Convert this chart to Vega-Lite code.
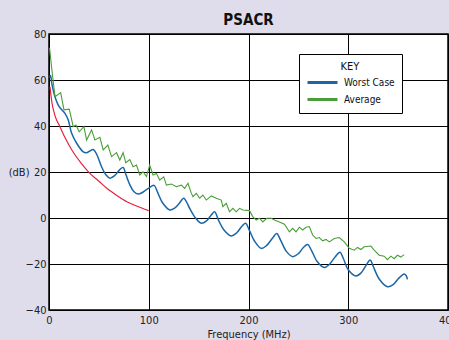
{
  "$schema": "https://vega.github.io/schema/vega-lite/v6.json",
  "width": 399,
  "height": 276,
  "autosize": {"type": "none"},
  "padding": {"left": 49, "top": 34, "right": 1, "bottom": 30},
  "background": "#dfdcec",
  "title": {"text": "PSACR", "fontSize": 15, "font": "Liberation Sans Narrow, DejaVu Sans Condensed, Liberation Sans, sans-serif", "fontWeight": "bold", "color": "#111111", "anchor": "middle", "frame": "group", "offset": 0},
  "config": {
    "view": {"fill": "white", "stroke": "black", "strokeWidth": 1.5},
    "font": "Liberation Sans Narrow, DejaVu Sans Condensed, Liberation Sans, sans-serif",
    "axis": {"labelFont": "Liberation Sans Narrow, DejaVu Sans Condensed, Liberation Sans, sans-serif", "titleFont": "Liberation Sans Narrow, DejaVu Sans Condensed, Liberation Sans, sans-serif", "labelFontSize": 11, "titleFontSize": 11, "titleFontWeight": "normal", "labelColor": "#222222", "titleColor": "#222222", "gridColor": "black", "gridOpacity": 1, "gridWidth": 1, "ticks": false, "domain": false},
    "legend": {"labelFont": "Liberation Sans Narrow, DejaVu Sans Condensed, Liberation Sans, sans-serif", "titleFont": "Liberation Sans Narrow, DejaVu Sans Condensed, Liberation Sans, sans-serif"}
  },
  "datasets": {
    "curves": [
      {"series": "Limit", "f": 1, "db": 57},
      {"series": "Limit", "f": 3, "db": 50},
      {"series": "Limit", "f": 6, "db": 44.5},
      {"series": "Limit", "f": 11, "db": 39.7},
      {"series": "Limit", "f": 16, "db": 35},
      {"series": "Limit", "f": 24, "db": 28.8},
      {"series": "Limit", "f": 32, "db": 24},
      {"series": "Limit", "f": 41, "db": 19.4},
      {"series": "Limit", "f": 50, "db": 16},
      {"series": "Limit", "f": 58, "db": 12.9},
      {"series": "Limit", "f": 68, "db": 9.8},
      {"series": "Limit", "f": 78, "db": 7.1},
      {"series": "Limit", "f": 89, "db": 5},
      {"series": "Limit", "f": 100, "db": 3.2},

      {"series": "Worst Case", "f": 0.5, "db": 61},
      {"series": "Worst Case", "f": 1.5, "db": 62},
      {"series": "Worst Case", "f": 3, "db": 58},
      {"series": "Worst Case", "f": 6, "db": 52.7},
      {"series": "Worst Case", "f": 10, "db": 48.5},
      {"series": "Worst Case", "f": 16, "db": 45.5},
      {"series": "Worst Case", "f": 19.3, "db": 42.6},
      {"series": "Worst Case", "f": 22.7, "db": 36.8},
      {"series": "Worst Case", "f": 27.7, "db": 32.5},
      {"series": "Worst Case", "f": 34.3, "db": 28.8},
      {"series": "Worst Case", "f": 37.7, "db": 28.4},
      {"series": "Worst Case", "f": 44.3, "db": 29.8},
      {"series": "Worst Case", "f": 48, "db": 27.5},
      {"series": "Worst Case", "f": 52.7, "db": 22.3},
      {"series": "Worst Case", "f": 57, "db": 18.8},
      {"series": "Worst Case", "f": 61, "db": 17.3},
      {"series": "Worst Case", "f": 66, "db": 18.5},
      {"series": "Worst Case", "f": 70.5, "db": 20.8},
      {"series": "Worst Case", "f": 74.3, "db": 22},
      {"series": "Worst Case", "f": 77, "db": 19},
      {"series": "Worst Case", "f": 81, "db": 14.5},
      {"series": "Worst Case", "f": 85, "db": 11.5},
      {"series": "Worst Case", "f": 89.3, "db": 10.4},
      {"series": "Worst Case", "f": 94, "db": 11.2},
      {"series": "Worst Case", "f": 100, "db": 13},
      {"series": "Worst Case", "f": 105.3, "db": 14.2},
      {"series": "Worst Case", "f": 109, "db": 11},
      {"series": "Worst Case", "f": 114, "db": 6.5},
      {"series": "Worst Case", "f": 121, "db": 3.5},
      {"series": "Worst Case", "f": 126, "db": 4.3},
      {"series": "Worst Case", "f": 131, "db": 6.6},
      {"series": "Worst Case", "f": 135, "db": 8.6},
      {"series": "Worst Case", "f": 139, "db": 6},
      {"series": "Worst Case", "f": 141, "db": 4.2},
      {"series": "Worst Case", "f": 146, "db": 0.5},
      {"series": "Worst Case", "f": 152.7, "db": -2.3},
      {"series": "Worst Case", "f": 158, "db": -1.2},
      {"series": "Worst Case", "f": 163, "db": 1.5},
      {"series": "Worst Case", "f": 166, "db": 2.7},
      {"series": "Worst Case", "f": 170, "db": -1},
      {"series": "Worst Case", "f": 175, "db": -5},
      {"series": "Worst Case", "f": 182.7, "db": -7.8},
      {"series": "Worst Case", "f": 188, "db": -6.5},
      {"series": "Worst Case", "f": 193, "db": -3.8},
      {"series": "Worst Case", "f": 197, "db": -2.3},
      {"series": "Worst Case", "f": 201, "db": -5.5},
      {"series": "Worst Case", "f": 206, "db": -10},
      {"series": "Worst Case", "f": 212.7, "db": -13.2},
      {"series": "Worst Case", "f": 218, "db": -12},
      {"series": "Worst Case", "f": 224, "db": -8.8},
      {"series": "Worst Case", "f": 228.3, "db": -6.7},
      {"series": "Worst Case", "f": 232, "db": -9.5},
      {"series": "Worst Case", "f": 238, "db": -14.5},
      {"series": "Worst Case", "f": 244.3, "db": -16.8},
      {"series": "Worst Case", "f": 250, "db": -15.5},
      {"series": "Worst Case", "f": 255, "db": -12.8},
      {"series": "Worst Case", "f": 259.3, "db": -11.5},
      {"series": "Worst Case", "f": 263, "db": -14},
      {"series": "Worst Case", "f": 269, "db": -19},
      {"series": "Worst Case", "f": 276, "db": -21.5},
      {"series": "Worst Case", "f": 281, "db": -20.2},
      {"series": "Worst Case", "f": 287, "db": -16.8},
      {"series": "Worst Case", "f": 291.7, "db": -14.9},
      {"series": "Worst Case", "f": 295, "db": -17.5},
      {"series": "Worst Case", "f": 300, "db": -22.5},
      {"series": "Worst Case", "f": 307.7, "db": -25.2},
      {"series": "Worst Case", "f": 313, "db": -23.8},
      {"series": "Worst Case", "f": 318, "db": -20.5},
      {"series": "Worst Case", "f": 322, "db": -18.3},
      {"series": "Worst Case", "f": 325, "db": -21},
      {"series": "Worst Case", "f": 331, "db": -26.5},
      {"series": "Worst Case", "f": 339.3, "db": -29.9},
      {"series": "Worst Case", "f": 345, "db": -29},
      {"series": "Worst Case", "f": 350, "db": -26.5},
      {"series": "Worst Case", "f": 356, "db": -24.3},
      {"series": "Worst Case", "f": 358, "db": -25},
      {"series": "Worst Case", "f": 359.3, "db": -26.7},

      {"series": "Average", "f": 0.5, "db": 74},
      {"series": "Average", "f": 3, "db": 64},
      {"series": "Average", "f": 6, "db": 52.7},
      {"series": "Average", "f": 11.7, "db": 54.5},
      {"series": "Average", "f": 15, "db": 47},
      {"series": "Average", "f": 20.3, "db": 47.3},
      {"series": "Average", "f": 24.3, "db": 39.7},
      {"series": "Average", "f": 27, "db": 40.4},
      {"series": "Average", "f": 30.3, "db": 37.5},
      {"series": "Average", "f": 35, "db": 39.7},
      {"series": "Average", "f": 37.7, "db": 33.9},
      {"series": "Average", "f": 42.7, "db": 38.3},
      {"series": "Average", "f": 46, "db": 33.9},
      {"series": "Average", "f": 51, "db": 35.1},
      {"series": "Average", "f": 54.3, "db": 29.6},
      {"series": "Average", "f": 59, "db": 31.7},
      {"series": "Average", "f": 62.7, "db": 26.7},
      {"series": "Average", "f": 67.7, "db": 28.4},
      {"series": "Average", "f": 71, "db": 25.2},
      {"series": "Average", "f": 74.3, "db": 28.4},
      {"series": "Average", "f": 77, "db": 24},
      {"series": "Average", "f": 81, "db": 25.4},
      {"series": "Average", "f": 84.3, "db": 22.3},
      {"series": "Average", "f": 87.7, "db": 23},
      {"series": "Average", "f": 91, "db": 18.7},
      {"series": "Average", "f": 94.3, "db": 20.1},
      {"series": "Average", "f": 97.7, "db": 18},
      {"series": "Average", "f": 101, "db": 23},
      {"series": "Average", "f": 104.3, "db": 18.7},
      {"series": "Average", "f": 107.7, "db": 19.4},
      {"series": "Average", "f": 111, "db": 16.5},
      {"series": "Average", "f": 115, "db": 17.9},
      {"series": "Average", "f": 117.7, "db": 14.3},
      {"series": "Average", "f": 122.7, "db": 14.8},
      {"series": "Average", "f": 127.7, "db": 13.6},
      {"series": "Average", "f": 132.7, "db": 14.3},
      {"series": "Average", "f": 136, "db": 12.9},
      {"series": "Average", "f": 139.3, "db": 15.1},
      {"series": "Average", "f": 142.7, "db": 10.7},
      {"series": "Average", "f": 144.3, "db": 9.3},
      {"series": "Average", "f": 147.7, "db": 10.7},
      {"series": "Average", "f": 151, "db": 8.6},
      {"series": "Average", "f": 154.3, "db": 10},
      {"series": "Average", "f": 157.7, "db": 7.8},
      {"series": "Average", "f": 162.7, "db": 9.6},
      {"series": "Average", "f": 167.7, "db": 8.6},
      {"series": "Average", "f": 172.7, "db": 7.8},
      {"series": "Average", "f": 174.3, "db": 4.9},
      {"series": "Average", "f": 177.7, "db": 6.4},
      {"series": "Average", "f": 181, "db": 2.7},
      {"series": "Average", "f": 184.3, "db": 4.2},
      {"series": "Average", "f": 187.7, "db": 2.7},
      {"series": "Average", "f": 191, "db": 4.2},
      {"series": "Average", "f": 194.3, "db": 3.5},
      {"series": "Average", "f": 201, "db": 3.2},
      {"series": "Average", "f": 204.3, "db": 0.6},
      {"series": "Average", "f": 207.7, "db": -0.9},
      {"series": "Average", "f": 211, "db": -0.1},
      {"series": "Average", "f": 214.3, "db": -1.7},
      {"series": "Average", "f": 218.3, "db": -0.1},
      {"series": "Average", "f": 222.7, "db": -0.1},
      {"series": "Average", "f": 226, "db": -0.9},
      {"series": "Average", "f": 231, "db": -1.7},
      {"series": "Average", "f": 236, "db": -2.7},
      {"series": "Average", "f": 241, "db": -6},
      {"series": "Average", "f": 244.3, "db": -4.5},
      {"series": "Average", "f": 247.7, "db": -6},
      {"series": "Average", "f": 251, "db": -4},
      {"series": "Average", "f": 254.3, "db": -5.2},
      {"series": "Average", "f": 257.7, "db": -4},
      {"series": "Average", "f": 261, "db": -3.7},
      {"series": "Average", "f": 264.3, "db": -7.4},
      {"series": "Average", "f": 267.7, "db": -8.9},
      {"series": "Average", "f": 271, "db": -8.5},
      {"series": "Average", "f": 274.3, "db": -9.9},
      {"series": "Average", "f": 277.7, "db": -9.3},
      {"series": "Average", "f": 281, "db": -10.4},
      {"series": "Average", "f": 286, "db": -8.9},
      {"series": "Average", "f": 291, "db": -8.5},
      {"series": "Average", "f": 296, "db": -10.4},
      {"series": "Average", "f": 301, "db": -13.2},
      {"series": "Average", "f": 306, "db": -14},
      {"series": "Average", "f": 309.3, "db": -12.8},
      {"series": "Average", "f": 312.7, "db": -13.7},
      {"series": "Average", "f": 316, "db": -12.5},
      {"series": "Average", "f": 322.7, "db": -12.2},
      {"series": "Average", "f": 326, "db": -14},
      {"series": "Average", "f": 331, "db": -16.2},
      {"series": "Average", "f": 336, "db": -16.6},
      {"series": "Average", "f": 339.3, "db": -18.1},
      {"series": "Average", "f": 342.7, "db": -16.6},
      {"series": "Average", "f": 346, "db": -17.7},
      {"series": "Average", "f": 349.3, "db": -16.2},
      {"series": "Average", "f": 352.7, "db": -17},
      {"series": "Average", "f": 356, "db": -15.9}
    ]
  },
  "data": {"name": "curves"},
  "encoding": {
    "x": {"field": "f", "type": "quantitative", "scale": {"domain": [0, 400], "nice": false}, "axis": {"values": [0, 100, 200, 300, 400], "title": "Frequency (MHz)", "labelPadding": 4, "titlePadding": 3, "labelFlush": false}},
    "y": {"field": "db", "type": "quantitative", "scale": {"domain": [-40, 80], "nice": false}, "axis": {"values": [-40, -20, 0, 20, 40, 60, 80], "title": "(dB)", "titleAngle": 0, "titleAlign": "right", "titleBaseline": "middle", "titleX": -20, "titleY": 138, "labelPadding": 3}}
  },
  "layer": [
    {
      "transform": [{"filter": "datum.series === 'Limit'"}],
      "mark": {"type": "line", "color": "#e8203f", "strokeWidth": 1.2, "interpolate": "monotone"}
    },
    {
      "transform": [{"filter": "datum.series === 'Worst Case'"}],
      "mark": {"type": "line", "interpolate": "catmull-rom", "strokeWidth": 1.5},
      "encoding": {
        "color": {"field": "series", "type": "nominal", "scale": {"domain": ["Worst Case", "Average"], "range": ["#1b67a6", "#4a9d38"]},
          "legend": {"title": "KEY", "orient": "none", "legendX": 250, "legendY": 20, "fillColor": "white", "strokeColor": "black", "padding": 7, "titleFontSize": 11, "titleFontWeight": "normal", "titleAnchor": "middle", "titleColor": "#111111", "titlePadding": 4, "labelFontSize": 10, "labelColor": "#111111", "labelOffset": 25, "symbolType": "M-1,0H5", "symbolSize": 100, "symbolStrokeWidth": 3, "rowPadding": 4}},
        "order": {"field": "f", "type": "quantitative"}
      }
    },
    {
      "transform": [{"filter": "datum.series === 'Average'"}],
      "mark": {"type": "line", "interpolate": "linear", "strokeWidth": 1.1},
      "encoding": {
        "color": {"field": "series", "type": "nominal"},
        "order": {"field": "f", "type": "quantitative"}
      }
    }
  ]
}
